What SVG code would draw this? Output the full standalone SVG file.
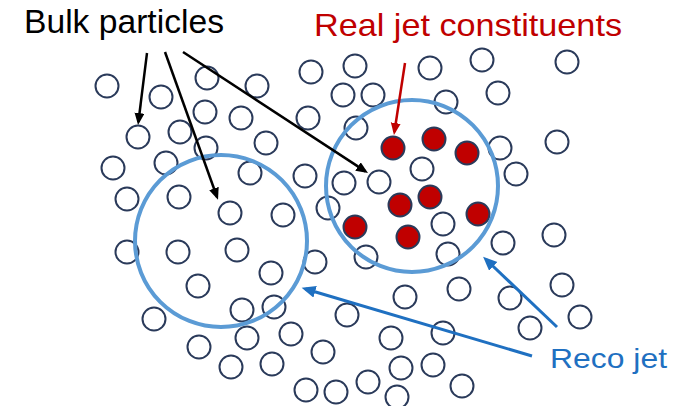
<svg xmlns="http://www.w3.org/2000/svg" width="677" height="406" viewBox="0 0 677 406">
<style>
.p{fill:none;stroke:#2a3a5a;stroke-width:2}
.r{fill:#c00000;stroke:#2a3a5a;stroke-width:2}
.jet{fill:none;stroke:#5b9bd5;stroke-width:4}
.t{font-family:"Liberation Sans",Arial,sans-serif}
</style>
<defs>
<marker id="hk" markerUnits="userSpaceOnUse" markerWidth="14" markerHeight="12" refX="9" refY="5" orient="auto"><path d="M0,0 L12,5 L0,10 z" fill="#000"/></marker>
<marker id="hr" markerUnits="userSpaceOnUse" markerWidth="14" markerHeight="12" refX="9" refY="5" orient="auto"><path d="M0,0 L12,5 L0,10 z" fill="#c00000"/></marker>
<marker id="hb" markerUnits="userSpaceOnUse" markerWidth="16" markerHeight="14" refX="10" refY="6" orient="auto"><path d="M0,0 L14,6 L0,12 z" fill="#1f70c1"/></marker>
</defs>
<rect width="677" height="406" fill="#fff"/>
<g id="bulk">
<circle class="p" cx="107" cy="86" r="11.5"/><circle class="p" cx="161" cy="97" r="11.5"/><circle class="p" cx="207" cy="78" r="11.5"/>
<circle class="p" cx="138" cy="137" r="11.5"/><circle class="p" cx="180" cy="132" r="11.5"/><circle class="p" cx="205" cy="112" r="11.5"/>
<circle class="p" cx="206" cy="148" r="11.5"/><circle class="p" cx="113" cy="168" r="11.5"/><circle class="p" cx="166" cy="163" r="11.5"/>
<circle class="p" cx="127" cy="199" r="11.5"/><circle class="p" cx="179" cy="197" r="11.5"/><circle class="p" cx="241" cy="118" r="11.5"/>
<circle class="p" cx="257" cy="86" r="11.5"/><circle class="p" cx="311" cy="72" r="11.5"/><circle class="p" cx="355" cy="66" r="11.5"/>
<circle class="p" cx="430" cy="68" r="11.5"/><circle class="p" cx="482" cy="60" r="11.5"/><circle class="p" cx="567" cy="62" r="11.5"/>
<circle class="p" cx="343" cy="95" r="11.5"/><circle class="p" cx="373" cy="95" r="11.5"/><circle class="p" cx="446" cy="102" r="11.5"/>
<circle class="p" cx="498" cy="93" r="11.5"/><circle class="p" cx="308" cy="118" r="11.5"/><circle class="p" cx="356" cy="128" r="11.5"/>
<circle class="p" cx="266" cy="143" r="11.5"/><circle class="p" cx="250" cy="173" r="11.5"/><circle class="p" cx="305" cy="176" r="11.5"/>
<circle class="p" cx="344" cy="183" r="11.5"/><circle class="p" cx="379" cy="182" r="11.5"/><circle class="p" cx="422" cy="169" r="11.5"/>
<circle class="p" cx="500" cy="148" r="11.5"/><circle class="p" cx="557" cy="142" r="11.5"/><circle class="p" cx="516" cy="174" r="11.5"/>
<circle class="p" cx="230" cy="213" r="11.5"/><circle class="p" cx="283" cy="215" r="11.5"/><circle class="p" cx="328" cy="208" r="11.5"/>
<circle class="p" cx="127" cy="252" r="11.5"/><circle class="p" cx="178" cy="252" r="11.5"/><circle class="p" cx="237" cy="250" r="11.5"/>
<circle class="p" cx="315" cy="262" r="11.5"/><circle class="p" cx="271" cy="273" r="11.5"/><circle class="p" cx="198" cy="286" r="11.5"/>
<circle class="p" cx="366" cy="257" r="11.5"/><circle class="p" cx="443" cy="224" r="11.5"/><circle class="p" cx="448" cy="254" r="11.5"/>
<circle class="p" cx="503" cy="243" r="11.5"/><circle class="p" cx="554" cy="235" r="11.5"/><circle class="p" cx="405" cy="297" r="11.5"/>
<circle class="p" cx="459" cy="289" r="11.5"/><circle class="p" cx="510" cy="298" r="11.5"/><circle class="p" cx="562" cy="285" r="11.5"/>
<circle class="p" cx="580" cy="317" r="11.5"/><circle class="p" cx="530" cy="328" r="11.5"/><circle class="p" cx="154" cy="319" r="11.5"/>
<circle class="p" cx="242" cy="310" r="11.5"/><circle class="p" cx="274" cy="307" r="11.5"/><circle class="p" cx="347" cy="315" r="11.5"/>
<circle class="p" cx="199" cy="347" r="11.5"/><circle class="p" cx="247" cy="338" r="11.5"/><circle class="p" cx="291" cy="334" r="11.5"/>
<circle class="p" cx="323" cy="352" r="11.5"/><circle class="p" cx="231" cy="367" r="11.5"/><circle class="p" cx="272" cy="364" r="11.5"/>
<circle class="p" cx="391" cy="338" r="11.5"/><circle class="p" cx="443" cy="333" r="11.5"/><circle class="p" cx="401" cy="368" r="11.5"/>
<circle class="p" cx="433" cy="365" r="11.5"/><circle class="p" cx="306" cy="390" r="11.5"/><circle class="p" cx="336" cy="392" r="11.5"/>
<circle class="p" cx="368" cy="382" r="11.5"/><circle class="p" cx="397" cy="397" r="11.5"/><circle class="p" cx="462" cy="386" r="11.5"/>
</g>
<g id="constituents">
<circle class="r" cx="393" cy="148" r="11.5"/><circle class="r" cx="434" cy="139" r="11.5"/><circle class="r" cx="467" cy="153" r="11.5"/>
<circle class="r" cx="400" cy="205" r="11.5"/><circle class="r" cx="430" cy="197" r="11.5"/><circle class="r" cx="478" cy="214" r="11.5"/>
<circle class="r" cx="355" cy="227" r="11.5"/><circle class="r" cx="408" cy="237" r="11.5"/>
</g>
<g id="reco-jet-left"><circle class="jet" cx="221" cy="241" r="86"/></g>
<g id="reco-jet-right"><circle class="jet" cx="412" cy="186" r="86"/></g>
<g id="connectors" fill="none">
<line x1="147" y1="53" x2="138.4" y2="122" stroke="#000" stroke-width="2.5" marker-end="url(#hk)"/>
<line x1="165" y1="52" x2="217" y2="197" stroke="#000" stroke-width="2.5" marker-end="url(#hk)"/>
<line x1="183" y1="52" x2="365.5" y2="171.4" stroke="#000" stroke-width="2.5" marker-end="url(#hk)"/>
<line x1="405" y1="63" x2="394.4" y2="132" stroke="#c00000" stroke-width="2.5" marker-end="url(#hr)"/>
<line x1="557" y1="327" x2="486" y2="259.5" stroke="#1f70c1" stroke-width="3" marker-end="url(#hb)"/>
<line x1="532" y1="356" x2="305.5" y2="289" stroke="#1f70c1" stroke-width="3" marker-end="url(#hb)"/>
</g>
<g id="labels">
<text class="t" x="24" y="33" font-size="32.5" fill="#000" textLength="200" lengthAdjust="spacingAndGlyphs">Bulk particles</text>
<text class="t" x="314" y="36" font-size="32" fill="#c00000" textLength="308" lengthAdjust="spacingAndGlyphs">Real jet constituents</text>
<text class="t" x="550" y="368" font-size="28" fill="#1f70c1" textLength="117" lengthAdjust="spacingAndGlyphs">Reco jet</text>
</g>
</svg>
